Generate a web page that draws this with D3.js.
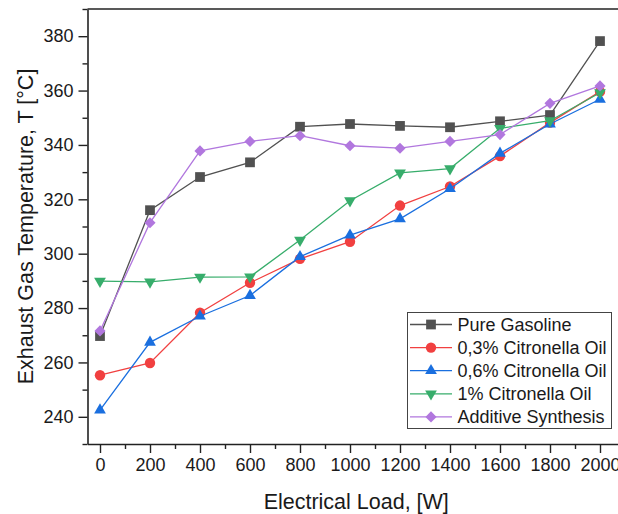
<!DOCTYPE html>
<html>
<head>
<meta charset="utf-8">
<script src="https://cdn.jsdelivr.net/npm/d3@7"></script>
<style>
  body { margin: 0; background: #fff; }
  text { font-family: "Liberation Sans", Arial, sans-serif; fill: #1a1a1a; }
</style>
</head>
<body>
<div class="chart"></div>
<script>
// data
var loads = [0, 200, 400, 600, 800, 1000, 1200, 1400, 1600, 1800, 2000];
var pureGasoline = [269.7, 316.0, 328.2, 333.6, 346.7, 347.7, 347.0, 346.5, 348.7, 351.0, 378.2];
var citronella03 = [255.3, 259.8, 278.3, 289.3, 298.1, 304.4, 317.7, 324.7, 335.9, 348.2, 359.6];
var citronella06 = [242.5, 267.4, 277.0, 284.6, 298.9, 306.8, 312.8, 323.9, 336.9, 347.7, 356.8];
var citronella1 = [289.9, 289.6, 291.4, 291.5, 305.0, 319.5, 329.7, 331.3, 346.1, 348.9, 359.2];
var additiveSynthesis = [271.6, 311.4, 337.8, 341.3, 343.4, 339.7, 338.8, 341.3, 343.8, 355.3, 361.7];
var seriesNames = ["Pure Gasoline", "0,3% Citronella Oil", "0,6% Citronella Oil", "1% Citronella Oil", "Additive Synthesis"];
var yTicks = [240, 260, 280, 300, 320, 340, 360, 380];

var svgWidth = 618;
var svgHeight = 514;

var svg = d3.select(".chart")
  .append("svg")
  .attr("width", svgWidth)
  .attr("height", svgHeight);

var plotLeft = 87.5, plotRight = 625, plotTop = 9, plotBottom = 444;

var xScale = d3.scaleLinear().domain([-50, 2100]).range([plotLeft, plotRight]);
var yScale = d3.scaleLinear().domain([230, 390]).range([plotBottom, plotTop]);

var series = [
  { name: seriesNames[0], values: pureGasoline, color: "#515151", symbol: d3.symbolSquare, size: 95, rotate: 0 },
  { name: seriesNames[1], values: citronella03, color: "#F14040", symbol: d3.symbolCircle, size: 85, rotate: 0 },
  { name: seriesNames[2], values: citronella06, color: "#1A6FDF", symbol: d3.symbolTriangle, size: 60, rotate: 0 },
  { name: seriesNames[3], values: citronella1, color: "#37AD6B", symbol: d3.symbolTriangle, size: 60, rotate: 180 },
  { name: seriesNames[4], values: additiveSynthesis, color: "#B177DE", symbol: d3.symbolSquare, size: 62, rotate: 45 }
];

// frame (top line only, right edge falls outside the picture)
svg.append("line")
  .attr("x1", plotLeft).attr("x2", plotRight)
  .attr("y1", plotTop).attr("y2", plotTop)
  .attr("stroke", "#222").attr("stroke-width", 1.6);

// x axis
var bottomAxis = d3.axisBottom(xScale)
  .tickValues(loads)
  .tickFormat(d3.format("d"))
  .tickSize(9)
  .tickPadding(5)
  .tickSizeOuter(0);

svg.append("g")
  .attr("transform", `translate(0, ${plotBottom})`)
  .call(bottomAxis);

svg.append("g")
  .attr("transform", `translate(0, ${plotBottom})`)
  .call(d3.axisBottom(xScale).tickValues(d3.range(100, 2100, 200)).tickSize(5).tickFormat("").tickSizeOuter(0))
  .select(".domain").remove();

// y axis
var leftAxis = d3.axisLeft(yScale)
  .tickValues(yTicks)
  .tickFormat(d3.format("d"))
  .tickSize(9)
  .tickPadding(5)
  .tickSizeOuter(0);

svg.append("g")
  .attr("transform", `translate(${plotLeft}, 0)`)
  .call(leftAxis);

svg.append("g")
  .attr("transform", `translate(${plotLeft}, 0)`)
  .call(d3.axisLeft(yScale).tickValues(d3.range(230, 400, 20)).tickSize(5).tickFormat("").tickSizeOuter(0))
  .select(".domain").remove();

svg.selectAll(".domain").attr("stroke", "#222").attr("stroke-width", 1.6);
svg.selectAll(".tick line").attr("stroke", "#222").attr("stroke-width", 1.4);
svg.selectAll(".tick text")
  .style("font-size", "18px")
  .style("font-family", "'Liberation Sans', Arial, sans-serif")
  .attr("fill", "#1a1a1a");

// axis titles
svg.append("text")
  .attr("x", (plotLeft + plotRight) / 2)
  .attr("y", 509)
  .attr("text-anchor", "middle")
  .style("font-size", "21.5px")
  .text("Electrical Load, [W]");

svg.append("text")
  .attr("transform", "rotate(-90)")
  .attr("x", -(plotTop + plotBottom) / 2)
  .attr("y", 33)
  .attr("text-anchor", "middle")
  .style("font-size", "21.5px")
  .text("Exhaust Gas Temperature, T [°C]");

// lines and markers
var line = d3.line()
  .x((d, i) => xScale(loads[i]))
  .y(d => yScale(d));

series.forEach(function(s) {
  var g = svg.append("g");
  g.append("path")
    .datum(s.values)
    .attr("d", line)
    .attr("fill", "none")
    .attr("stroke", s.color)
    .attr("stroke-width", 1.3);

  var sym = d3.symbol().type(s.symbol).size(s.size);
  g.selectAll("path.marker")
    .data(s.values)
    .enter()
    .append("path")
    .attr("class", "marker")
    .attr("d", sym)
    .attr("fill", s.color)
    .attr("transform", (d, i) => `translate(${xScale(loads[i])}, ${yScale(d)}) rotate(${s.rotate})`);
});

// legend
var legend = svg.append("g");
legend.append("rect")
  .attr("x", 407.5).attr("y", 312.5)
  .attr("width", 204).attr("height", 116)
  .attr("fill", "#fff")
  .attr("stroke", "#444")
  .attr("stroke-width", 1);

series.forEach(function(s, i) {
  var ly = 324.5 + i * 23.1;
  legend.append("line")
    .attr("x1", 410).attr("x2", 452)
    .attr("y1", ly).attr("y2", ly)
    .attr("stroke", s.color).attr("stroke-width", 1.3);
  legend.append("path")
    .attr("d", d3.symbol().type(s.symbol).size(s.size)())
    .attr("fill", s.color)
    .attr("transform", `translate(431, ${ly}) rotate(${s.rotate})`);
  legend.append("text")
    .attr("x", 457.5)
    .attr("y", ly)
    .attr("dy", "0.35em")
    .style("font-size", "18px")
    .text(s.name);
});
</script>
</body>
</html>
